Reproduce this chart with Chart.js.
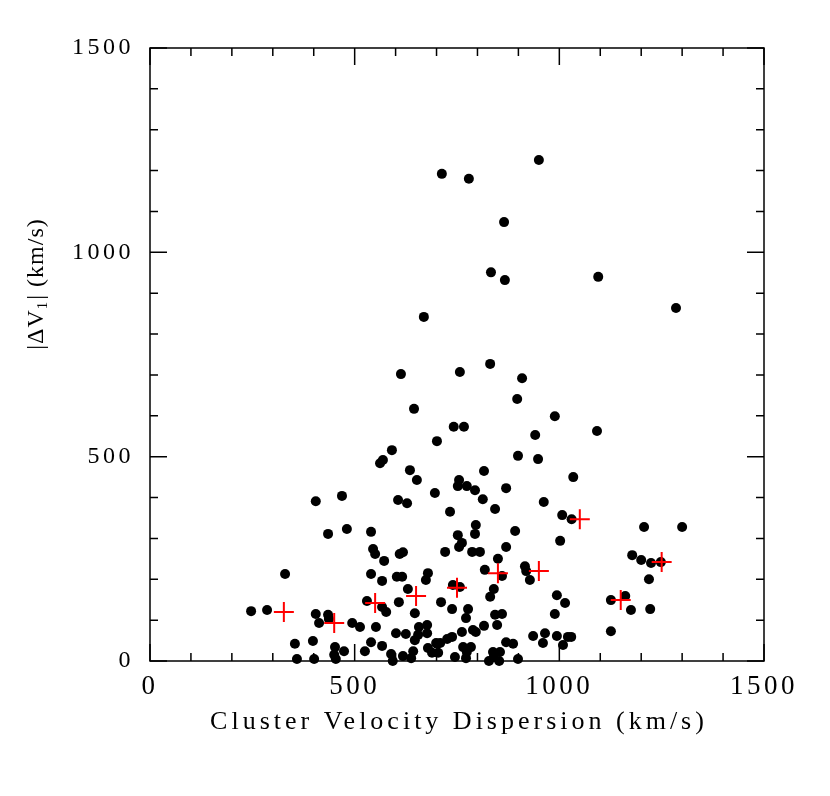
<!DOCTYPE html>
<html>
<head>
<meta charset="utf-8">
<script src="https://cdn.jsdelivr.net/npm/chart.js@4.4.1/dist/chart.umd.min.js"></script>
<style>
    html, body { margin: 0; padding: 0; background: #fff; }
    #contenedor { width: 830px; height: 796px; }
</style>
</head>
<body>
<div id="contenedor"><canvas id="graficoDispersion"></canvas></div>
<script>
// cumulos: dispersion de velocidades (km/s) y |dV1| (km/s)
const dispersion = [
    950, 713, 779, 865, 833, 867, 1095, 669, 1285, 613, 757, 831, 909,
    645, 591, 569, 562, 635, 652, 405, 469, 606, 628, 435, 481, 540, 545, 550, 572, 610, 618,
    330, 540, 567, 603, 616, 679, 674, 630, 530, 608, 247, 286, 567, 577, 647, 405, 435, 413,
    437, 494, 513, 552, 657, 677, 601, 625, 655, 647, 354, 398, 540, 567, 452, 474, 450, 525,
    589, 618, 643, 638, 359, 401, 454, 593, 679, 677,
    897, 989, 742, 767, 701, 941, 899, 948, 816, 755, 752, 774, 794, 870, 696, 813, 962, 733,
    843, 1007, 1030, 796, 794, 892, 752, 762, 755, 1002, 870, 721, 787, 806, 850, 818, 860, 916,
    919, 928, 740, 757, 840, 831, 711, 738, 777, 772, 994, 1014, 989, 843, 860, 848, 816, 789,
    796, 762, 738, 726, 709, 699, 936, 965, 994, 1021, 960, 1009, 870, 887, 701, 689, 704, 765,
    784, 774, 772, 745, 838, 855, 840, 828, 853, 899,
    1092, 1034, 1207, 1300, 1178, 1200, 1224, 1248, 1219, 1126, 1161, 1175, 1222, 1126, 1029
];
const deltaV = [
    1226, 1192, 1180, 1074, 951, 932, 940, 842, 864, 702, 707, 727, 692,
    617, 516, 492, 484, 467, 443, 391, 404, 394, 386, 311, 323, 316, 274, 262, 245, 262, 266,
    213, 213, 196, 206, 206, 215, 198, 176, 147, 144, 122, 125, 132, 120, 117, 115, 113, 93,
    103, 93, 83, 83, 83, 88, 68, 66, 64, 51, 42, 49, 46, 37, 34, 24, 15, 24,
    17, 12, 24, 7, 5, 5, 5, 0, 32, 68,
    641, 599, 573, 573, 538, 553, 502, 494, 465, 443, 428, 428, 418, 423, 411, 396, 389, 365,
    372, 357, 347, 333, 311, 318, 308, 289, 279, 294, 279, 267, 267, 267, 250, 223, 208, 232,
    220, 198, 186, 181, 176, 157, 144, 127, 127, 105, 161, 142, 115, 113, 115, 88, 86, 76,
    71, 71, 59, 54, 44, 44, 61, 68, 61, 59, 44, 39, 46, 42, 42, 20, 20, 34,
    34, 22, 7, 10, 22, 22, 10, 0, 0, 5,
    563, 450, 328, 328, 259, 247, 240, 242, 200, 149, 159, 125, 127, 73, 59
];

// medias por intervalo (cruces rojas)
const binCentro = [327, 450, 550, 650, 750, 850, 950, 1050, 1150, 1250];
const binMedia = [120, 93, 142, 159, 179, 215, 220, 347, 149, 242];

const ticksEje = [0, 500, 1000, 1500];
const tituloX = 'Cluster Velocity Dispersion (km/s)';
const tituloY = ['|\u0394V', '1', '| (km/s)'];

const marcoPlugin = {
    id: 'marco',
    beforeDraw(chart) {
        chart.ctx.letterSpacing = '3.5px';
    },
    beforeDatasetsDraw(chart) {
        const { ctx, chartArea: a, scales: { x, y } } = chart;
        ctx.save();
        ctx.letterSpacing = '0px';
        ctx.strokeStyle = '#000';
        ctx.lineWidth = 1.5;
        ctx.strokeRect(a.left, a.top, a.right - a.left, a.bottom - a.top);
        ctx.beginPath();
        for (let v = 0; v <= 1500; v += 100) {
            const largo = v % 500 === 0 ? 17 : 8;
            const px = x.getPixelForValue(v);
            const py = y.getPixelForValue(v);
            ctx.moveTo(px, a.bottom); ctx.lineTo(px, a.bottom - largo);
            ctx.moveTo(px, a.top); ctx.lineTo(px, a.top + largo);
            ctx.moveTo(a.left, py); ctx.lineTo(a.left + largo, py);
            ctx.moveTo(a.right, py); ctx.lineTo(a.right - largo, py);
        }
        ctx.stroke();
        ctx.restore();
    },
    afterDraw(chart) {
        const { ctx, chartArea: a } = chart;
        ctx.save();
        ctx.fillStyle = '#000';
        ctx.textBaseline = 'middle';

        // titulo eje x
        ctx.letterSpacing = '4px';
        ctx.font = '26px "Liberation Serif"';
        ctx.textAlign = 'center';
        ctx.fillText(tituloX, (a.left + a.right) / 2 + 2, 722);

        // titulo eje y con subindice
        ctx.letterSpacing = '1px';
        ctx.textAlign = 'left';
        const fuente = '24px "Liberation Serif"';
        const fuenteSub = '15px "Liberation Serif"';
        ctx.font = fuente;
        const w1 = ctx.measureText(tituloY[0]).width;
        const w3 = ctx.measureText(tituloY[2]).width;
        ctx.font = fuenteSub;
        const w2 = ctx.measureText(tituloY[1]).width + 1;
        const total = w1 + w2 + w3;
        ctx.translate(37, 284);
        ctx.rotate(-Math.PI / 2);
        let cx = -total / 2;
        ctx.font = fuente;
        ctx.fillText(tituloY[0], cx, 0);
        cx += w1;
        ctx.font = fuenteSub;
        ctx.fillText(tituloY[1], cx, 6);
        cx += w2;
        ctx.font = fuente;
        ctx.fillText(tituloY[2], cx, 0);
        ctx.restore();
        ctx.letterSpacing = '0px';
    }
};

const ctxGrafico = document.getElementById('graficoDispersion').getContext('2d');

new Chart(ctxGrafico, {
    type: 'scatter',
    data: {
        datasets: [
            {
                data: dispersion.map((v, i) => ({ x: v, y: deltaV[i] })),
                pointRadius: 5,
                pointHoverRadius: 5,
                backgroundColor: '#000',
                borderWidth: 0,
                clip: false,
                order: 2
            },
            {
                data: binCentro.map((v, i) => ({ x: v, y: binMedia[i] })),
                pointStyle: 'cross',
                pointRadius: 10,
                pointHoverRadius: 10,
                borderColor: '#ff0000',
                borderWidth: 2,
                clip: false,
                order: 1
            }
        ]
    },
    options: {
        responsive: true,
        maintainAspectRatio: false,
        animation: false,
        layout: { padding: { top: 48, right: 66, left: 0, bottom: 0 } },
        plugins: {
            legend: { display: false },
            tooltip: { enabled: false }
        },
        scales: {
            x: {
                type: 'linear',
                min: 0,
                max: 1500,
                afterFit: s => { s.height = 135; },
                afterBuildTicks: s => { s.ticks = ticksEje.map(v => ({ value: v })); },
                grid: { display: false, drawTicks: false },
                border: { display: false },
                ticks: {
                    padding: 10,
                    color: '#000',
                    font: { family: '"Liberation Serif"', size: 27 },
                    callback: v => String(v)
                }
            },
            y: {
                type: 'linear',
                min: 0,
                max: 1500,
                afterFit: s => { s.width = 150; },
                afterBuildTicks: s => { s.ticks = ticksEje.map(v => ({ value: v })); },
                grid: { display: false, drawTicks: false },
                border: { display: false },
                ticks: {
                    padding: 16,
                    color: '#000',
                    font: { family: '"Liberation Serif"', size: 24 },
                    callback: v => String(v)
                }
            }
        }
    },
    plugins: [marcoPlugin]
});
</script>
</body>
</html>
